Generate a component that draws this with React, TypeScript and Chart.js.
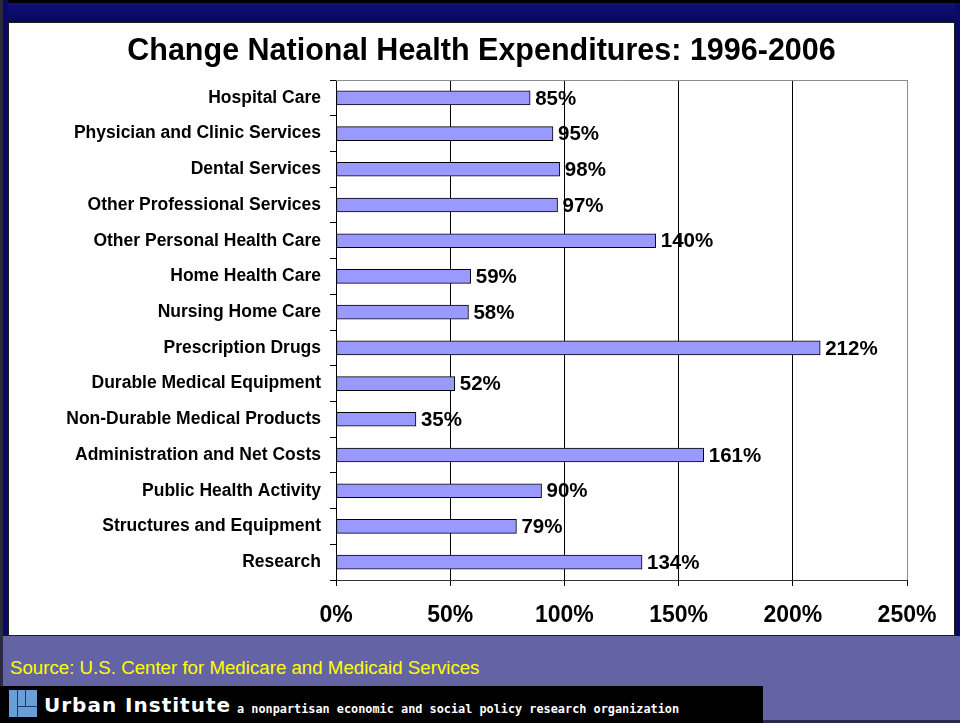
import React, { useEffect, useRef } from "react";
import { Chart, registerables } from "chart.js";

Chart.register(...registerables);

const categories = [
  "Hospital Care",
  "Physician and Clinic Services",
  "Dental Services",
  "Other Professional Services",
  "Other Personal Health Care",
  "Home Health Care",
  "Nursing Home Care",
  "Prescription Drugs",
  "Durable Medical Equipment",
  "Non-Durable Medical Products",
  "Administration and Net Costs",
  "Public Health Activity",
  "Structures and Equipment",
  "Research",
];
const values = [85, 95, 98, 97, 140, 59, 58, 212, 52, 35, 161, 90, 79, 134];
const xMin = 0;
const xMax = 250;
const xStep = 50;
const titleText = "Change National Health Expenditures: 1996-2006";
const sourceText = "Source: U.S. Center for Medicare and Medicaid Services";
const orgName = "Urban Institute";
const orgTagline = "a nonpartisan economic and social policy research organization";

const FONT = "'Liberation Sans', Arial, Helvetica, sans-serif";

export default function App() {
  const ref = useRef<HTMLCanvasElement>(null);

  useEffect(() => {
    if (!ref.current) return;

    const valueLabels = {
      id: "valueLabels",
      afterDatasetsDraw(chart: any) {
        const ctx = chart.ctx;
        const meta = chart.getDatasetMeta(0);
        ctx.save();
        ctx.font = `bold 20.5px ${FONT}`;
        ctx.fillStyle = "#000";
        ctx.textBaseline = "middle";
        ctx.textAlign = "left";
        meta.data.forEach((el: any, i: number) => {
          ctx.fillText(`${values[i]}%`, el.x + 5, el.y + 1);
        });
        ctx.restore();
      },
    };

    const frameAndTitle = {
      id: "frameAndTitle",
      beforeDatasetsDraw(chart: any) {
        const { ctx, chartArea } = chart;
        ctx.save();
        ctx.strokeStyle = "#8c8c8c";
        ctx.lineWidth = 1;
        ctx.beginPath();
        ctx.moveTo(chartArea.left, Math.round(chartArea.top) + 0.5);
        ctx.lineTo(chartArea.right, Math.round(chartArea.top) + 0.5);
        ctx.stroke();
        ctx.restore();
      },
      afterDraw(chart: any) {
        const ctx = chart.ctx;
        ctx.save();
        ctx.font = `bold 30.5px ${FONT}`;
        ctx.fillStyle = "#000";
        ctx.textAlign = "center";
        ctx.textBaseline = "alphabetic";
        ctx.fillText(titleText, chart.width / 2, 37);
        ctx.restore();
      },
    };

    const chart = new Chart(ref.current, {
      type: "bar",
      data: {
        labels: categories,
        datasets: [
          {
            data: values,
            backgroundColor: "#9999ff",
            borderColor: "#000",
            borderWidth: 1,
            borderSkipped: false,
            barThickness: 14,
          },
        ],
      },
      options: {
        indexAxis: "y",
        animation: false,
        responsive: false,
        devicePixelRatio: 1,
        layout: { padding: { left: 0, right: 47, top: 57, bottom: 0 } },
        plugins: {
          legend: { display: false },
          tooltip: { enabled: false },
          title: { display: false },
        },
        scales: {
          x: {
            type: "linear",
            min: xMin,
            max: xMax,
            ticks: {
              stepSize: xStep,
              callback: (v: any) => `${v}%`,
              color: "#000",
              font: { family: FONT, size: 23, weight: "bold" },
              padding: 16,
            },
            grid: {
              color: (c: any) => (c.tick && c.tick.value === xMax ? "#8c8c8c" : "#000"),
              tickColor: "#000",
              tickLength: 6,
              lineWidth: 1,
            },
            border: { color: "#333", width: 1 },
            afterFit: (s: any) => {
              s.height = 55;
            },
          },
          y: {
            type: "category",
            ticks: {
              autoSkip: false,
              color: "#000",
              font: { family: FONT, size: 17.5, weight: "bold" },
              padding: 9,
            },
            grid: {
              drawOnChartArea: false,
              offset: true,
              color: "#000",
              tickLength: 6,
            },
            border: { color: "#000", width: 1 },
            afterFit: (s: any) => {
              s.width = 327;
            },
          },
        },
      },
      plugins: [valueLabels, frameAndTitle],
    } as any);

    return () => chart.destroy();
  }, []);

  const abs = (l: number, t: number, w: number, h: number, bg: string): React.CSSProperties => ({
    position: "absolute",
    left: l,
    top: t,
    width: w,
    height: h,
    background: bg,
  });

  const logoBlue = "#6a9ed6";

  return (
    <div
      style={{
        position: "fixed",
        left: 0,
        top: 0,
        width: 960,
        height: 723,
        background: "#6464a4",
        overflow: "hidden",
      }}
    >
      {/* top bands */}
      <div style={abs(0, 0, 960, 3, "#000")} />
      <div style={abs(0, 3, 960, 19, "linear-gradient(#101078, #06065e)")} />
      {/* side strips */}
      <div style={abs(0, 0, 8, 686, "#0a0a66")} />
      <div style={abs(0, 636, 8, 50, "#6464a4")} />
      <div style={abs(0, 0, 3, 723, "#2a2a40")} />
      <div style={abs(955, 3, 5, 633, "#0a0a66")} />
      <div style={abs(763, 720, 197, 3, "#2a2a50")} />
      {/* white panel */}
      <div
        style={{
          ...abs(8, 22, 947, 614, "#fff"),
          border: "1px solid #1a1a1a",
          boxSizing: "border-box",
        }}
      />
      <canvas
        ref={ref}
        width={945}
        height={612}
        style={{ position: "absolute", left: 9, top: 23, width: 945, height: 612 }}
      />
      {/* source */}
      <div
        style={{
          position: "absolute",
          left: 10,
          top: 658,
          fontFamily: FONT,
          fontSize: 18.7,
          lineHeight: "19px",
          color: "#ffff00",
          whiteSpace: "nowrap",
        }}
      >
        {sourceText}
      </div>
      {/* footer bar */}
      <div style={abs(0, 686, 763, 37, "#000")} />
      <div style={abs(9, 690, 28, 27, "#1d3a70")}>
        <div style={abs(0, 0, 8, 27, logoBlue)} />
        <div style={abs(9, 0, 7, 16, logoBlue)} />
        <div style={abs(17, 0, 11, 16, logoBlue)} />
        <div style={abs(9, 17, 19, 10, logoBlue)} />
      </div>
      <div
        style={{
          position: "absolute",
          left: 44,
          top: 695,
          fontFamily: "'DejaVu Sans', sans-serif",
          fontWeight: "bold",
          fontSize: 20,
          lineHeight: "20px",
          letterSpacing: 1,
          color: "#fff",
          whiteSpace: "nowrap",
        }}
      >
        {orgName}
      </div>
      <div
        style={{
          position: "absolute",
          left: 237,
          top: 703,
          fontFamily: "'DejaVu Sans Mono', monospace",
          fontWeight: "bold",
          fontSize: 11.85,
          lineHeight: "12px",
          color: "#fff",
          whiteSpace: "nowrap",
        }}
      >
        {orgTagline}
      </div>
    </div>
  );
}
